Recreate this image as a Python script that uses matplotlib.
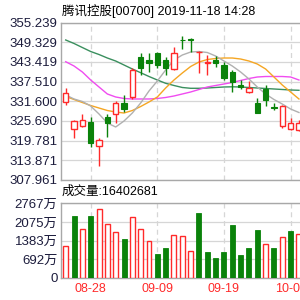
import numpy as np
import matplotlib
matplotlib.use('Agg')
import matplotlib.pyplot as plt

# ─────────────────────────────────────────────
# Data (daily K-line, 29 sessions)
# ─────────────────────────────────────────────

opens = [331.38, 323.27, 324.26, 325.28, 318.17, 326.96, 327.77, 331.10, 332.97, 344.88,
         344.13, 345.99, 343.98, 341.19, 350.08, 350.20, 346.29, 343.23, 343.98, 342.48,
         340.47, 336.39, 334.47, 331.17, 335.28, 329.96, 324.17, 323.18, 322.97]
highs = [335.43, 326.10, 327.68, 326.78, 320.48, 327.68, 331.53, 333.48, 341.58, 346.08,
         346.08, 346.47, 344.97, 347.97, 351.19, 350.50, 346.59, 345.48, 345.18, 343.47,
         340.98, 337.83, 337.68, 332.49, 336.48, 331.07, 330.47, 326.48, 325.97]
lows = [330.47, 320.66, 324.02, 317.96, 312.07, 320.96, 325.16, 328.46, 332.28, 339.48,
        340.38, 341.67, 339.48, 340.98, 347.19, 346.47, 339.99, 339.48, 341.88, 337.98,
        334.47, 335.28, 334.08, 327.98, 330.17, 328.98, 323.48, 323.10, 322.80]
closes = [334.08, 325.76, 325.97, 318.98, 319.97, 324.98, 331.17, 329.18, 340.98, 341.58,
          343.23, 342.48, 341.49, 345.99, 349.84, 349.93, 346.53, 343.38, 343.08, 338.58,
          337.47, 335.88, 335.49, 328.16, 331.98, 329.66, 330.17, 324.98, 325.07]
prev_close = 333.0

# volume, in 万 shares
volumes = [1179, 2306, 1822, 2306, 2544, 1986, 1688, 1428, 2257, 1822,
           1365, 900, 1097, 1581, 1551, 1004, 2395, 945, 733, 945,
           1960, 855, 1093, 1785, 1253, 1093, 1502, 1748, 1625]

ma5 = [333.48, 332.28, 331.53, 330.17, 327.77, 325.07, 323.87, 325.67, 328.07, 331.07,
       334.68, 337.68, 340.98, 343.98, 345.48, 346.38, 346.53, 346.23, 345.18, 343.68,
       342.18, 340.38, 338.28, 335.88, 333.78, 332.13, 330.77, 329.27, 328.22]
ma10 = [333.03, 332.13, 331.22, 330.32, 329.57, 328.82, 328.37, 328.07, 328.82, 330.02,
        331.38, 332.88, 335.58, 337.98, 340.08, 342.03, 343.38, 344.13, 344.43, 344.58,
        344.58, 344.28, 343.68, 342.78, 341.28, 338.88, 336.48, 334.38, 332.28]
ma20 = [343.47, 342.18, 340.38, 337.98, 335.88, 333.78, 332.88, 332.43, 332.28, 332.28,
        332.28, 332.43, 332.73, 333.18, 333.78, 334.38, 335.13, 335.88, 336.33, 336.78,
        337.23, 337.83, 338.43, 338.88, 339.03, 339.03, 339.03, 338.88, 337.98]
ma60 = [349.99, 348.94, 347.73, 346.53, 345.63, 344.58, 343.68, 342.48, 341.28, 340.17,
        339.03, 337.98, 336.99, 336.33, 335.73, 335.49, 335.49, 335.58, 335.73, 335.88,
        335.94, 335.88, 335.73, 335.58, 335.43, 335.28, 335.13, 334.98, 334.89]

price_ticks = [307.961, 313.871, 319.781, 325.690, 331.600, 337.510, 343.419, 349.329, 355.239]
vol_ticks = [0, 692, 1383, 2075, 2767]
vol_tick_labels = ['0', '692万', '1383万', '2075万', '2767万']
date_pos = [3, 11, 19, 27]
date_labels = ['08-28', '09-09', '09-19', '10-02']

TITLE = '腾讯控股[00700] 2019-11-18 14:28'
VOL_TITLE = '成交量:16402681'

RED = '#ff2a2a'
GREEN = '#0a820a'
GRID = '#d6d6d6'
FRAME = '#a8a8a8'
TICK_COLOR = '#1c1c3c'
TICK_FONT = ['Liberation Sans', 'Noto Sans CJK SC']

W = 300.0
x = np.arange(len(closes))
XLIM = (-0.564, 28.127)


def style_axes(ax):
    for side in ['left', 'top', 'bottom']:
        ax.spines[side].set_color(FRAME)
        ax.spines[side].set_linewidth(1.0)
    ax.spines['right'].set_visible(False)
    ax.set_xlim(*XLIM)
    ax.tick_params(axis='both', length=0, labelsize=9.5, labelcolor=TICK_COLOR)
    for d in date_pos:
        ax.axvline(d, color=GRID, linestyle=(0, (4, 3)), linewidth=0.9, zorder=0)


def plot_kline(ax):
    for p in price_ticks:
        ax.axhline(p, color=GRID, linewidth=0.9, zorder=0)

    ax.plot(x, ma60, color='#3a8f5e', linewidth=1.0, zorder=2)
    ax.plot(x, ma20, color='#f04cf0', linewidth=1.0, zorder=2)
    ax.plot(x, ma10, color='#f5a623', linewidth=1.0, zorder=2)
    ax.plot(x, ma5, color='#b0b0b0', linewidth=1.0, zorder=2)

    o = np.array(opens)
    c = np.array(closes)
    up = c >= o
    colors = np.where(up, RED, GREEN)
    ax.vlines(x, lows, highs, colors=colors, linewidth=1.0, zorder=3)
    bottom = np.minimum(o, c)
    height = np.maximum(np.abs(c - o), 0.15)
    ax.bar(x[up], height[up], bottom=bottom[up], width=0.62,
           facecolor='white', edgecolor=RED, linewidth=1.0, zorder=4)
    ax.bar(x[~up], height[~up], bottom=bottom[~up], width=0.62,
           facecolor=GREEN, edgecolor=GREEN, linewidth=0.8, zorder=4)

    ax.set_ylim(price_ticks[0], price_ticks[-1])
    ax.set_yticks(price_ticks)
    ax.set_yticklabels([f'{p:.3f}' for p in price_ticks], family=TICK_FONT)
    ax.set_xticks([])
    ax.tick_params(axis='y', pad=2.6)


def plot_volume(ax):
    for v in vol_ticks[1:]:
        ax.axhline(v, color=GRID, linewidth=0.9, zorder=0)

    # volume colour follows close vs previous close
    c = np.array(closes)
    prev = np.concatenate([[prev_close], c[:-1]])
    up = c >= prev
    v = np.array(volumes)
    ax.bar(x[up], v[up], width=0.6, facecolor='white', edgecolor=RED,
           linewidth=1.0, zorder=3)
    ax.bar(x[~up], v[~up], width=0.6, facecolor=GREEN, edgecolor=GREEN,
           linewidth=0.6, zorder=3)

    ax.set_ylim(0, vol_ticks[-1])
    ax.set_yticks(vol_ticks)
    ax.set_yticklabels(vol_tick_labels, family=TICK_FONT)
    ax.set_xticks(date_pos)
    ax.set_xticklabels(date_labels, family=TICK_FONT, fontsize=9, color=RED)
    ax.tick_params(axis='y', pad=2.6)
    ax.tick_params(axis='x', pad=4.0, labelcolor=RED)


def main():
    fig = plt.figure(figsize=(3, 3), dpi=100)
    left = 61 / W
    ax_k = fig.add_axes([left, 1 - 180 / W, 1 - left, (180 - 22.5) / W])
    ax_v = fig.add_axes([left, 1 - 277.7 / W, 1 - left, (277.7 - 203.3) / W])
    style_axes(ax_k)
    style_axes(ax_v)
    plot_kline(ax_k)
    plot_volume(ax_v)

    fig.text(62 / W, 1 - 11 / W, TITLE, family=TICK_FONT, fontsize=9,
             va='center', ha='left', color='black')
    fig.text(62 / W, 1 - 191.5 / W, VOL_TITLE, family=TICK_FONT, fontsize=9,
             va='center', ha='left', color='black')

    fig.savefig('out.png', dpi=100)
    plt.close(fig)


if __name__ == '__main__':
    main()
